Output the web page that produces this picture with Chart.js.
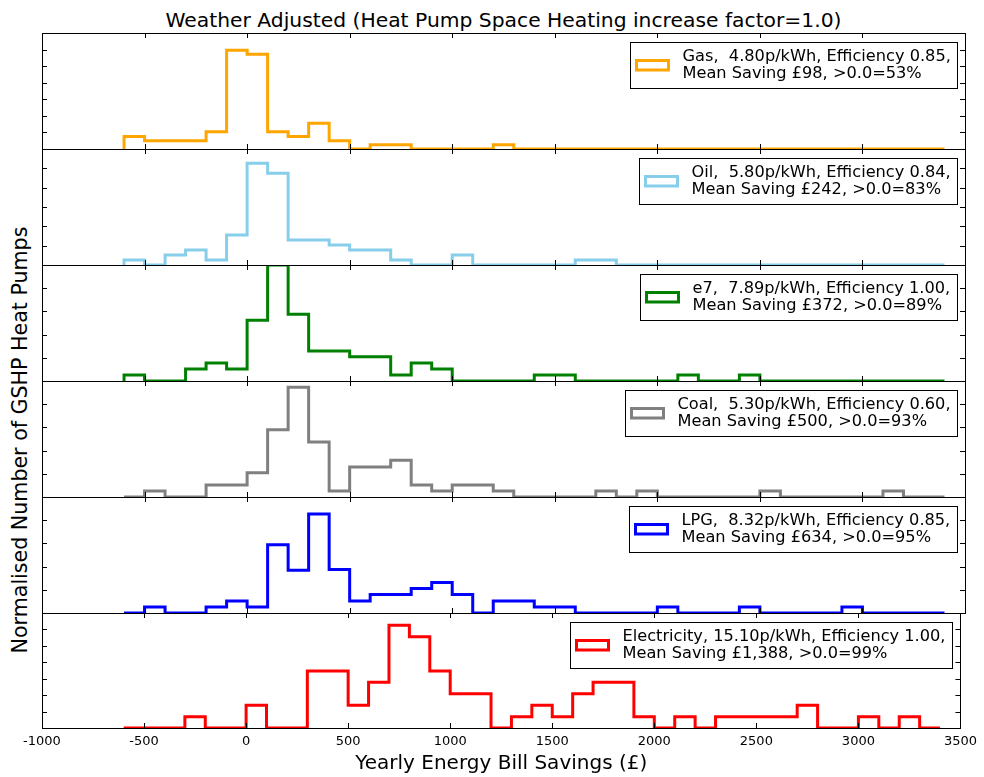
<!DOCTYPE html>
<html>
<head>
<meta charset="utf-8">
<script src="https://cdn.jsdelivr.net/npm/chart.js@4.4.0/dist/chart.umd.min.js"></script>
<style>
    body { margin: 0; background: #fff; }
    #wrap { position: relative; width: 984px; height: 777px; overflow: hidden; font-family: "DejaVu Sans", sans-serif; color: #000; }
    #wrap canvas { position: absolute; left: 0; }
    #title { position: absolute; left: 42px; width: 923px; top: 8px; text-align: center; font-size: 20.3px; line-height: 24px; white-space: nowrap; }
    #ylabel { position: absolute; left: 20px; top: 440px; transform: translate(-50%, -50%) rotate(-90deg); font-size: 20.6px; line-height: 24px; white-space: nowrap; }
</style>
</head>
<body>
<div id="wrap">
    <div id="title">Weather Adjusted (Heat Pump Space Heating increase factor=1.0)</div>
    <div id="ylabel">Normalised Number of GSHP Heat Pumps</div>
</div>

<script>
// Bin edges of the savings histograms (£)
const binEdges = [-600, -500, -400, -300, -200, -100, 0, 100, 200, 300,
    400, 500, 600, 700, 800, 900, 1000, 1100, 1200, 1300,
    1400, 1500, 1600, 1700, 1800, 1900, 2000, 2100, 2200, 2300,
    2400, 2500, 2600, 2700, 2800, 2900, 3000, 3100, 3200, 3300, 3400];

// Normalised counts per bin, one list per fuel
const gasValues = [0.76, 0.5, 0.5, 0.5, 1.04, 5.96, 5.72, 1.04, 0.76, 1.56,
    0.5, 0, 0.25, 0.25, 0, 0, 0, 0, 0.25, 0,
    0, 0, 0, 0, 0, 0, 0, 0, 0, 0,
    0, 0, 0, 0, 0, 0, 0, 0, 0, 0];
const oilValues = [0.26, 0, 0.52, 0.78, 0.26, 1.55, 5.26, 4.74, 1.29, 1.29,
    1.03, 0.78, 0.78, 0.26, 0, 0, 0.52, 0, 0, 0,
    0, 0, 0.26, 0.26, 0, 0, 0, 0, 0, 0,
    0, 0, 0, 0, 0, 0, 0, 0, 0, 0];
const e7Values = [0.26, 0, 0, 0.52, 0.78, 0.52, 2.62, 5, 2.88, 1.29,
    1.29, 1.04, 1.04, 0.26, 0.78, 0.52, 0, 0, 0, 0,
    0.26, 0.26, 0, 0, 0, 0, 0, 0.26, 0, 0,
    0.26, 0, 0, 0, 0, 0, 0, 0, 0, 0];
const coalValues = [0, 0.26, 0, 0, 0.52, 0.52, 1.04, 2.9, 4.73, 2.37,
    0.26, 1.29, 1.29, 1.58, 0.52, 0.26, 0.52, 0.52, 0.26, 0,
    0, 0, 0, 0.26, 0, 0.26, 0, 0, 0, 0,
    0, 0.26, 0, 0, 0, 0, 0, 0.26, 0, 0];
const lpgValues = [0, 0.26, 0, 0, 0.26, 0.52, 0.26, 2.94, 1.84, 4.27,
    1.87, 0.52, 0.8, 0.8, 1.06, 1.32, 0.8, 0, 0.52, 0.52,
    0.26, 0.26, 0, 0, 0, 0, 0.26, 0, 0, 0,
    0.26, 0, 0, 0, 0, 0.26, 0, 0, 0, 0];
const elecValues = [0, 0, 0, 0.69, 0, 0, 1.39, 0, 0, 3.47,
    3.47, 1.39, 2.78, 6.25, 5.56, 3.47, 2.08, 2.08, 0, 0.69,
    1.39, 0.69, 2.08, 2.78, 2.78, 0.69, 0, 0.69, 0, 0.69,
    0.69, 0.69, 0.69, 1.39, 0, 0, 0.69, 0, 0.69, 0];

// Upper limit of each panel's y axis
const panelMax = [7, 6, 5, 5, 5, 7];

const panels = [
    { values: gasValues, color: '#FFA500', label: ['Gas,  4.80p/kWh, Efficiency 0.85,', 'Mean Saving £98, >0.0=53%'] },
    { values: oilValues, color: '#87CEEB', label: ['Oil,  5.80p/kWh, Efficiency 0.84,', 'Mean Saving £242, >0.0=83%'] },
    { values: e7Values, color: '#008000', label: ['e7,  7.89p/kWh, Efficiency 1.00,', 'Mean Saving £372, >0.0=89%'] },
    { values: coalValues, color: '#808080', label: ['Coal,  5.30p/kWh, Efficiency 0.60,', 'Mean Saving £500, >0.0=93%'] },
    { values: lpgValues, color: '#0000FF', label: ['LPG,  8.32p/kWh, Efficiency 0.85,', 'Mean Saving £634, >0.0=95%'] },
    { values: elecValues, color: '#FF0000', label: ['Electricity, 15.10p/kWh, Efficiency 1.00,', 'Mean Saving £1,388, >0.0=99%'] }
];

const FONT = '"DejaVu Sans", sans-serif';
const PANEL_TOP = 33;
const PANEL_H = 116;
const PAD = 6;

// Turn bin values into step-outline points
function stepPoints(values) {
    const pts = [{ x: binEdges[0], y: 0 }];
    values.forEach((v, i) => pts.push({ x: binEdges[i], y: v }));
    pts.push({ x: binEdges[binEdges.length - 1], y: 0 });
    return pts;
}

// Frame, inward ticks on all four sides and the boxed legend
const panelFrame = {
    id: 'panelFrame',
    afterDatasetsDraw(chart, args, opts) {
        const ctx = chart.ctx;
        const a = chart.chartArea;
        const xs = chart.scales.x;
        const ys = chart.scales.y;
        ctx.save();
        ctx.strokeStyle = '#000';
        ctx.lineWidth = 1;
        ctx.beginPath();
        xs.ticks.forEach(t => {
            const px = Math.round(xs.getPixelForValue(t.value)) + 0.5;
            ctx.moveTo(px, a.top); ctx.lineTo(px, a.top + 5);
            ctx.moveTo(px, a.bottom); ctx.lineTo(px, a.bottom - 5);
        });
        ys.ticks.forEach(t => {
            const py = Math.round(ys.getPixelForValue(t.value)) + 0.5;
            ctx.moveTo(a.left, py); ctx.lineTo(a.left + 5, py);
            ctx.moveTo(a.right, py); ctx.lineTo(a.right - 5, py);
        });
        ctx.stroke();
        ctx.strokeRect(Math.round(a.left) + 0.5, Math.round(a.top) + 0.5, Math.round(a.width), Math.round(a.height));

        // legend box in the upper right corner
        ctx.font = '16.2px ' + FONT;
        const tw = Math.max(...opts.lines.map(l => ctx.measureText(l).width));
        const bw = Math.round(52 + tw + 7);
        const bh = 46;
        const bx = Math.round(a.right - 8 - bw) + 0.5;
        const by = Math.round(a.top + 9) + 0.5;
        ctx.fillStyle = '#fff';
        ctx.fillRect(bx, by, bw, bh);
        ctx.strokeStyle = '#000';
        ctx.lineWidth = 1;
        ctx.strokeRect(bx, by, bw, bh);
        ctx.strokeStyle = opts.color;
        ctx.lineWidth = 3;
        ctx.strokeRect(bx + 6, by + 18, 32, 9.5);
        ctx.fillStyle = '#000';
        ctx.textBaseline = 'middle';
        ctx.fillText(opts.lines[0], bx + 52, by + 14);
        ctx.fillText(opts.lines[1], bx + 52, by + 31);
        ctx.restore();
    }
};

const wrap = document.getElementById('wrap');

panels.forEach((p, k) => {
    const last = k === panels.length - 1;
    const top = PANEL_TOP + PANEL_H * k - PAD;
    const height = last ? 777 - top : PANEL_H + 2 * PAD;

    const canvas = document.createElement('canvas');
    canvas.width = 984;
    canvas.height = height;
    canvas.style.top = top + 'px';
    wrap.appendChild(canvas);

    new Chart(canvas, {
        type: 'line',
        data: {
            datasets: [{
                data: stepPoints(p.values),
                borderColor: p.color,
                borderWidth: 3,
                pointRadius: 0,
                stepped: true,
                fill: false,
                borderJoinStyle: 'miter'
            }]
        },
        options: {
            responsive: false,
            animation: false,
            layout: { padding: { left: 42, right: 19, top: PAD, bottom: last ? 0 : PAD } },
            plugins: {
                legend: { display: false },
                tooltip: { enabled: false },
                panelFrame: { lines: p.label, color: p.color }
            },
            scales: {
                x: {
                    type: 'linear',
                    min: -1000,
                    max: 3500,
                    grid: { display: false, drawTicks: false },
                    border: { display: false },
                    ticks: {
                        display: last,
                        stepSize: 500,
                        autoSkip: false,
                        maxRotation: 0,
                        padding: 7,
                        color: '#000',
                        font: { family: FONT, size: 13, lineHeight: 1.0 },
                        callback: v => String(v)
                    },
                    title: {
                        display: last,
                        text: 'Yearly Energy Bill Savings (£)',
                        color: '#000',
                        font: { family: FONT, size: 20, lineHeight: 1.0 },
                        padding: { top: -1, bottom: 3 }
                    }
                },
                y: {
                    min: 0,
                    max: panelMax[k],
                    grid: { display: false, drawTicks: false },
                    border: { display: false },
                    ticks: { display: false, stepSize: 1 }
                }
            }
        },
        plugins: [panelFrame]
    });
});
</script>
</body>
</html>
